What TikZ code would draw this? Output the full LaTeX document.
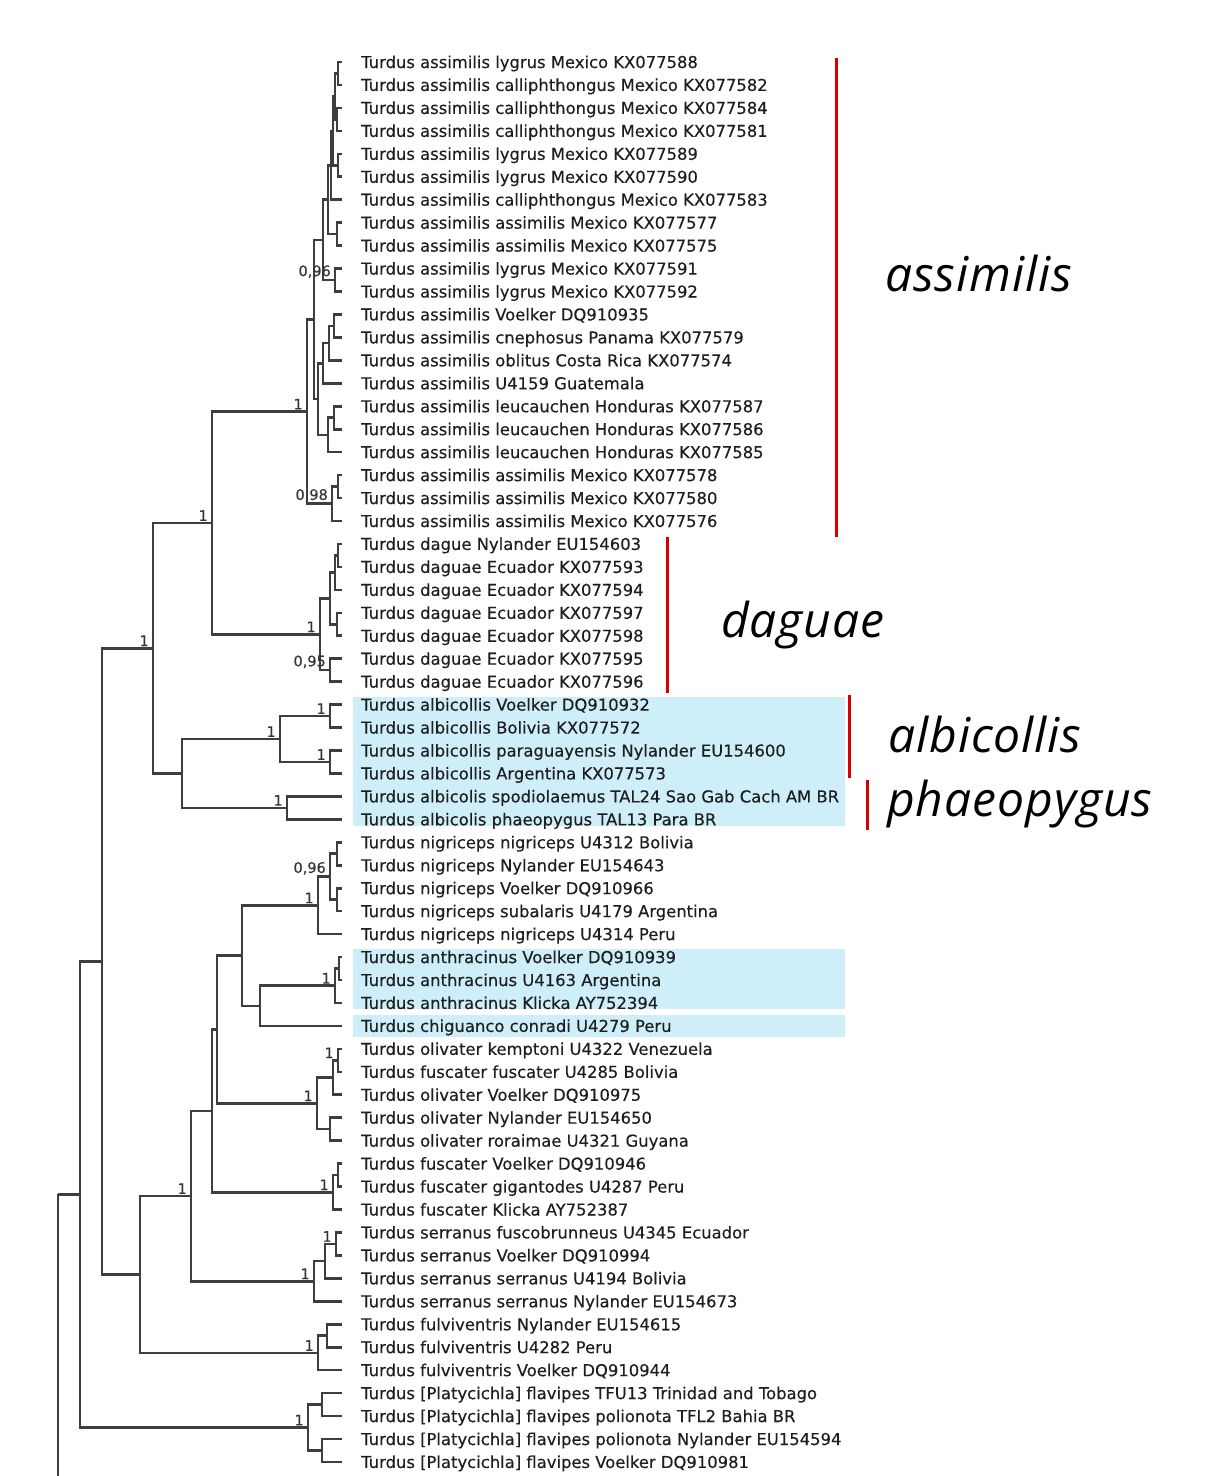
\documentclass[tikz,border=0pt]{standalone}
\usepackage{fontspec}
\setmainfont{DejaVu Sans}
\newfontfamily\leaffont{DejaVu Sans}[FakeBold=0.3]
\newfontfamily\cladefont{Open Sans}[LetterSpace=2]
\usetikzlibrary{calc}
\definecolor{linec}{RGB}{62,62,62}
\definecolor{txtc}{RGB}{30,30,30}
\definecolor{hlblue}{RGB}{206,239,250}
\definecolor{barred}{RGB}{214,0,0}
\tikzset{
  br/.style={draw=linec, line width=2.6pt},
  leaf/.style={anchor=base west, inner sep=0pt, text=txtc, font=\leaffont\fontsize{16.4}{16.4}\selectfont},
  suplabel/.style={anchor=south east, inner sep=0pt, text=txtc!90!white, font=\leaffont\fontsize{14.5}{14.5}\selectfont},
  clade/.style={anchor=base west, inner sep=0pt, text=black, font=\cladefont\itshape\fontsize{48}{48}\selectfont},
  cladebar/.style={draw=barred, line width=3pt},
  hlbox/.style={fill=hlblue, draw=none}
}
\newcommand\lf[2]{%
  \coordinate (t#1) at (342,{62+(#1-1)*22.95});
  \node[leaf] (l#1) at (361,{68+(#1-1)*22.95}) {#2};}
\newcommand\nd[4]{%
  \path let \p1=(#3), \p2=(#4) in coordinate (#1) at (#2pt,{(\y1+\y2)/2});
  \draw[br] (#1) |- (#3);
  \draw[br] (#1) |- (#4);}
\newcommand\suplab[2]{\node[suplabel] (s#1) at ([xshift=-4pt,yshift=2pt]#1) {#2};}
\begin{document}
\begin{tikzpicture}[x=1pt,y=-1pt]
\useasboundingbox (0,0) rectangle (1209,1476);
% highlights
\fill[hlbox] (353,697) rectangle (845,826);
\fill[hlbox] (353,949) rectangle (845,1009);
\fill[hlbox] (353,1015) rectangle (845,1037);
% leaves
\lf{1}{Turdus assimilis lygrus Mexico KX077588}
\lf{2}{Turdus assimilis calliphthongus Mexico KX077582}
\lf{3}{Turdus assimilis calliphthongus Mexico KX077584}
\lf{4}{Turdus assimilis calliphthongus Mexico KX077581}
\lf{5}{Turdus assimilis lygrus Mexico KX077589}
\lf{6}{Turdus assimilis lygrus Mexico KX077590}
\lf{7}{Turdus assimilis calliphthongus Mexico KX077583}
\lf{8}{Turdus assimilis assimilis Mexico KX077577}
\lf{9}{Turdus assimilis assimilis Mexico KX077575}
\lf{10}{Turdus assimilis lygrus Mexico KX077591}
\lf{11}{Turdus assimilis lygrus Mexico KX077592}
\lf{12}{Turdus assimilis Voelker DQ910935}
\lf{13}{Turdus assimilis cnephosus Panama KX077579}
\lf{14}{Turdus assimilis oblitus Costa Rica KX077574}
\lf{15}{Turdus assimilis U4159 Guatemala}
\lf{16}{Turdus assimilis leucauchen Honduras KX077587}
\lf{17}{Turdus assimilis leucauchen Honduras KX077586}
\lf{18}{Turdus assimilis leucauchen Honduras KX077585}
\lf{19}{Turdus assimilis assimilis Mexico KX077578}
\lf{20}{Turdus assimilis assimilis Mexico KX077580}
\lf{21}{Turdus assimilis assimilis Mexico KX077576}
\lf{22}{Turdus dague Nylander EU154603}
\lf{23}{Turdus daguae Ecuador KX077593}
\lf{24}{Turdus daguae Ecuador KX077594}
\lf{25}{Turdus daguae Ecuador KX077597}
\lf{26}{Turdus daguae Ecuador KX077598}
\lf{27}{Turdus daguae Ecuador KX077595}
\lf{28}{Turdus daguae Ecuador KX077596}
\lf{29}{Turdus albicollis Voelker DQ910932}
\lf{30}{Turdus albicollis Bolivia KX077572}
\lf{31}{Turdus albicollis paraguayensis Nylander EU154600}
\lf{32}{Turdus albicollis Argentina KX077573}
\lf{33}{Turdus albicolis spodiolaemus TAL24 Sao Gab Cach AM BR}
\lf{34}{Turdus albicolis phaeopygus TAL13 Para BR}
\lf{35}{Turdus nigriceps nigriceps U4312 Bolivia}
\lf{36}{Turdus nigriceps Nylander EU154643}
\lf{37}{Turdus nigriceps Voelker DQ910966}
\lf{38}{Turdus nigriceps subalaris U4179 Argentina}
\lf{39}{Turdus nigriceps nigriceps U4314 Peru}
\lf{40}{Turdus anthracinus Voelker DQ910939}
\lf{41}{Turdus anthracinus U4163 Argentina}
\lf{42}{Turdus anthracinus Klicka AY752394}
\lf{43}{Turdus chiguanco conradi U4279 Peru}
\lf{44}{Turdus olivater kemptoni U4322 Venezuela}
\lf{45}{Turdus fuscater fuscater U4285 Bolivia}
\lf{46}{Turdus olivater Voelker DQ910975}
\lf{47}{Turdus olivater Nylander EU154650}
\lf{48}{Turdus olivater roraimae U4321 Guyana}
\lf{49}{Turdus fuscater Voelker DQ910946}
\lf{50}{Turdus fuscater gigantodes U4287 Peru}
\lf{51}{Turdus fuscater Klicka AY752387}
\lf{52}{Turdus serranus fuscobrunneus U4345 Ecuador}
\lf{53}{Turdus serranus Voelker DQ910994}
\lf{54}{Turdus serranus serranus U4194 Bolivia}
\lf{55}{Turdus serranus serranus Nylander EU154673}
\lf{56}{Turdus fulviventris Nylander EU154615}
\lf{57}{Turdus fulviventris U4282 Peru}
\lf{58}{Turdus fulviventris Voelker DQ910944}
\lf{59}{Turdus [Platycichla] flavipes TFU13 Trinidad and Tobago}
\lf{60}{Turdus [Platycichla] flavipes polionota TFL2 Bahia BR}
\lf{61}{Turdus [Platycichla] flavipes polionota Nylander EU154594}
\lf{62}{Turdus [Platycichla] flavipes Voelker DQ910981}
% assimilis
\nd{a1}{338}{t1}{t2}
\nd{a2}{337}{t3}{t4}
\nd{a3}{335}{a1}{a2}
\nd{a4}{338}{t5}{t6}
\nd{a5}{333}{a3}{a4}
\nd{a6}{331}{a5}{t7}
\nd{b1}{337}{t8}{t9}
\nd{c1}{328}{a6}{b1}
\nd{d1}{335}{t10}{t11}
\nd{c2}{323}{c1}{d1}
\nd{e1}{334}{t12}{t13}
\nd{e2}{329}{e1}{t14}
\nd{e3}{323}{e2}{t15}
\nd{f1}{334}{t16}{t17}
\nd{f2}{328}{f1}{t18}
\nd{g1}{318}{e3}{f2}
\nd{h1}{314}{c2}{g1}
\nd{i1}{338}{t19}{t20}
\nd{i2}{332}{i1}{t21}
\nd{asm}{307}{h1}{i2}
% daguae
\nd{k1}{338}{t22}{t23}
\nd{k2}{335}{k1}{t24}
\nd{k3}{337}{t25}{t26}
\nd{k4}{330}{k2}{k3}
\nd{k5}{330}{t27}{t28}
\nd{dag}{320}{k4}{k5}
\nd{D}{212}{asm}{dag}
% albicollis
\nd{m1}{330}{t29}{t30}
\nd{m2}{330}{t31}{t32}
\nd{alb}{280}{m1}{m2}
\nd{pha}{287}{t33}{t34}
\nd{E}{182}{alb}{pha}
\nd{B}{153}{D}{E}
% nigriceps etc
\nd{n1}{337}{t35}{t36}
\nd{n2}{337}{t37}{t38}
\nd{n3}{330}{n1}{n2}
\nd{nig}{318}{n3}{t39}
\nd{o1}{339}{t40}{t41}
\nd{o2}{335}{o1}{t42}
\nd{I}{260}{o2}{t43}
\nd{H}{242}{nig}{I}
\nd{p1}{338}{t44}{t45}
\nd{p2}{333}{p1}{t46}
\nd{p3}{330}{t47}{t48}
\nd{oli}{317}{p2}{p3}
\nd{P}{217}{H}{oli}
\nd{q1}{338}{t49}{t50}
\nd{fus}{333}{q1}{t51}
\nd{Q}{212}{P}{fus}
\nd{r1}{336}{t52}{t53}
\nd{r2}{325}{r1}{t54}
\nd{ser}{314}{r2}{t55}
\nd{F}{191}{Q}{ser}
\nd{u1}{327}{t56}{t57}
\nd{ful}{318}{u1}{t58}
\nd{C}{140}{F}{ful}
\nd{A}{102}{B}{C}
\nd{v1}{322}{t59}{t60}
\nd{v2}{322}{t61}{t62}
\nd{pla}{308}{v1}{v2}
\nd{N}{80}{A}{pla}
\path let \p1=(N) in coordinate (rt) at (58pt,\y1);
\coordinate (rtb) at (58,1476);
\draw[br] (rt) -- (N);
\draw[br] (rt) -- (rtb);
% support values
\suplab{d1}{0,96}
\suplab{i2}{0,98}
\suplab{asm}{1}
\suplab{k5}{0,95}
\suplab{dag}{1}
\suplab{D}{1}
\suplab{B}{1}
\suplab{m1}{1}
\suplab{m2}{1}
\suplab{alb}{1}
\suplab{pha}{1}
\suplab{n3}{0,96}
\suplab{nig}{1}
\suplab{o2}{1}
\suplab{p1}{1}
\suplab{oli}{1}
\suplab{fus}{1}
\suplab{r1}{1}
\suplab{ser}{1}
\suplab{F}{1}
\suplab{ful}{1}
\suplab{pla}{1}
% clade bars
\coordinate (ba1) at (836,58);  \coordinate (ba2) at (836,537);
\coordinate (bd1) at (667,537); \coordinate (bd2) at (667,693);
\coordinate (bb1) at (849,695); \coordinate (bb2) at (849,778);
\coordinate (bp1) at (867,780); \coordinate (bp2) at (867,830);
\draw[cladebar] (ba1) -- (ba2);
\draw[cladebar] (bd1) -- (bd2);
\draw[cladebar] (bb1) -- (bb2);
\draw[cladebar] (bp1) -- (bp2);
\node[clade] (cA) at (885,291) {assimilis};
\node[clade] (cD) at (721,637) {daguae};
\node[clade] (cB) at (888,752) {albicollis};
\node[clade] (cP) at (887,816) {phaeopygus};
\end{tikzpicture}
\end{document}
